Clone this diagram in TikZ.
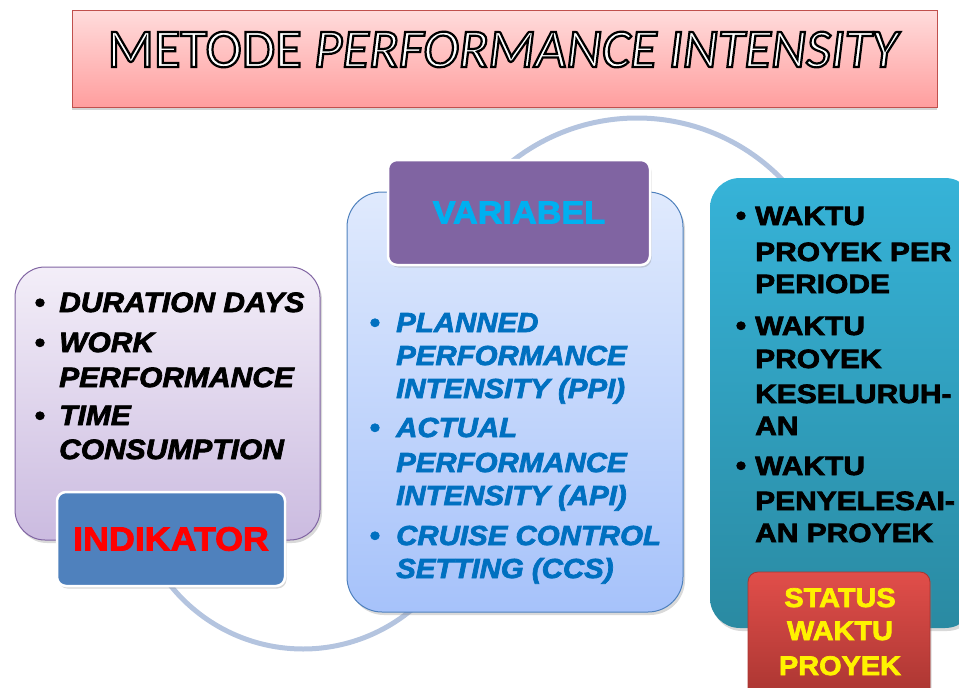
\documentclass[tikz,border=0pt]{standalone}
\usepackage{fontspec}
\usetikzlibrary{shadows}
\setmainfont{Liberation Sans}
\newfontfamily\ttlfont{Carlito}
\newfontfamily\bodyfont[FakeStretch=1.07,FakeBold=2.6]{Liberation Sans}
\newfontfamily\widefont[FakeStretch=1.13,FakeBold=2.6]{Liberation Sans}
\newcommand\outlinetxt[1]{\special{pdf:code q 2 Tr 2.2 w 0 G 1 g}#1\special{pdf:code Q}}
\definecolor{arcc}{HTML}{B4C4DF}
\definecolor{ttltop}{HTML}{FFDCDC}
\definecolor{ttlbot}{HTML}{FF9E9E}
\definecolor{ttlbd}{HTML}{C0504D}
\definecolor{lavtop}{HTML}{F3EEF8}
\definecolor{lavbot}{HTML}{CBBBE0}
\definecolor{lavbd}{HTML}{8064A2}
\definecolor{indfill}{HTML}{4F81BD}
\definecolor{bltop}{HTML}{E0EAFD}
\definecolor{blbot}{HTML}{A6C2FA}
\definecolor{blbd}{HTML}{4F81BD}
\definecolor{varfill}{HTML}{8064A2}
\definecolor{vartxt}{HTML}{00B0F0}
\definecolor{tltop}{HTML}{36B3D8}
\definecolor{tlbot}{HTML}{2A8AA2}
\definecolor{rdtop}{HTML}{E14E4A}
\definecolor{rdbot}{HTML}{A93531}
\definecolor{ctxt}{HTML}{0070C0}
\tikzset{
  arcline/.style={draw=arcc,line width=5pt},
  bigbox/.style={rectangle,rounded corners=30pt,inner sep=0pt,line width=1pt,
    drop shadow={shadow xshift=2pt,shadow yshift=-3pt,opacity=0.3}},
  tabbox/.style={rectangle,rounded corners=9pt,inner sep=0pt,draw=white,line width=2.5pt,
    drop shadow={shadow xshift=1.5pt,shadow yshift=-2.5pt,opacity=0.3}},
  ltxt/.style={anchor=base west,inner sep=0pt,font=\bodyfont\bfseries\itshape\fontsize{28}{34}\selectfont},
  ctxt/.style={anchor=base west,inner sep=0pt,text=ctxt,font=\bodyfont\bfseries\itshape\fontsize{27.5}{33}\selectfont},
  rtxt/.style={anchor=base west,inner sep=0pt,font=\widefont\bfseries\fontsize{26.5}{32}\selectfont},
  bul/.style={anchor=base,inner sep=0pt,font=\bodyfont\bfseries\fontsize{28}{34}\selectfont},
}
\begin{document}
\begin{tikzpicture}[x=1pt,y=-1pt]
\useasboundingbox (0,0) rectangle (959,688);
% arcs
\coordinate (ca) at (637,320);
\coordinate (cb) at (303,479);
\draw[arcline] (ca) ++(-140:202) arc[start angle=-140,end angle=-30,radius=202];
\draw[arcline] (cb) ++(150:170) arc[start angle=150,end angle=45,radius=170];
% title
\node[rectangle,inner sep=0pt,minimum width=865pt,minimum height=97pt,
  top color=ttltop,bottom color=ttlbot,draw=ttlbd,line width=0.8pt,
  drop shadow={shadow xshift=0pt,shadow yshift=-2.5pt,opacity=0.35}] (title) at (504.5,58.5) {};
\node[anchor=base,inner sep=0pt,font=\ttlfont\fontsize{54.5}{60}\selectfont] (titletext) at (504,67)
  {\outlinetxt{METODE \textit{PERFORMANCE INTENSITY}}};
% left box
\node[bigbox,top color=lavtop,bottom color=lavbot,draw=lavbd,minimum width=305pt,minimum height=273pt] (lbox) at (167.5,403.5) {};
\node[bul] (lb1) at (40,312) {•};
\node[bul] (lb2) at (40,352) {•};
\node[bul] (lb3) at (40,425) {•};
\node[ltxt] (l1) at (59,312) {DURATION DAYS};
\node[ltxt] (l2) at (59,352) {WORK};
\node[ltxt] (l3) at (59,387) {PERFORMANCE};
\node[ltxt] (l4) at (59,425) {TIME};
\node[ltxt] (l5) at (59,459) {CONSUMPTION};
\node[tabbox,fill=indfill,minimum width=228pt,minimum height=94pt,text=red,
  font=\bodyfont\bfseries\fontsize{33.5}{36}\selectfont] (ind) at (171,539) {INDIKATOR};
% center box
\node[bigbox,rounded corners=35pt,top color=bltop,bottom color=blbot,draw=blbd,minimum width=336pt,minimum height=420pt] (cbox) at (515,402) {};
\node[tabbox,fill=varfill,minimum width=262pt,minimum height=105pt,text=vartxt,
  font=\bodyfont\bfseries\fontsize{32}{36}\selectfont] (var) at (519,212.5) {VARIABEL};
\node[bul,text=ctxt] (cb1) at (375,332) {•};
\node[bul,text=ctxt] (cb2) at (375,437) {•};
\node[bul,text=ctxt] (cb3) at (375,545) {•};
\node[ctxt] (c1) at (396,332) {PLANNED};
\node[ctxt] (c2) at (396,365) {PERFORMANCE};
\node[ctxt] (c3) at (396,398) {INTENSITY (PPI)};
\node[ctxt] (c4) at (396,437) {ACTUAL};
\node[ctxt] (c5) at (396,472) {PERFORMANCE};
\node[ctxt] (c6) at (396,505) {INTENSITY (API)};
\node[ctxt] (c7) at (396,545) {CRUISE CONTROL};
\node[ctxt] (c8) at (396,578) {SETTING (CCS)};
% right box
\node[bigbox,top color=tltop,bottom color=tlbot,draw=none,minimum width=265pt,minimum height=450pt] (rbox) at (842.5,403) {};
\node[bul] (rb1) at (741,225) {•};
\node[bul] (rb2) at (741,335) {•};
\node[bul] (rb3) at (741,475) {•};
\node[rtxt] (r1) at (755,225) {WAKTU};
\node[rtxt] (r2) at (755,261) {PROYEK PER};
\node[rtxt] (r3) at (755,293) {PERIODE};
\node[rtxt] (r4) at (755,335) {WAKTU};
\node[rtxt] (r5) at (755,368) {PROYEK};
\node[rtxt] (r6) at (755,403) {KESELURUH-};
\node[rtxt] (r7) at (755,435) {AN};
\node[rtxt] (r8) at (755,475) {WAKTU};
\node[rtxt] (r9) at (755,510) {PENYELESAI-};
\node[rtxt] (r10) at (755,542) {AN PROYEK};
% status tab
\node[rectangle,rounded corners=10pt,inner sep=0pt,top color=rdtop,bottom color=rdbot,draw=rdbot,line width=0.8pt,
  minimum width=182pt,minimum height=128pt,
  drop shadow={shadow xshift=1.5pt,shadow yshift=-2.5pt,opacity=0.3}] (st) at (839,636) {};
\node[anchor=base,inner sep=0pt,text=yellow,font=\bodyfont\bfseries\fontsize{27}{32}\selectfont] (st1) at (840,607) {STATUS};
\node[anchor=base,inner sep=0pt,text=yellow,font=\bodyfont\bfseries\fontsize{27}{32}\selectfont] (st2) at (840,640) {WAKTU};
\node[anchor=base,inner sep=0pt,text=yellow,font=\bodyfont\bfseries\fontsize{27}{32}\selectfont] (st3) at (840,675) {PROYEK};
\end{tikzpicture}
\end{document}
